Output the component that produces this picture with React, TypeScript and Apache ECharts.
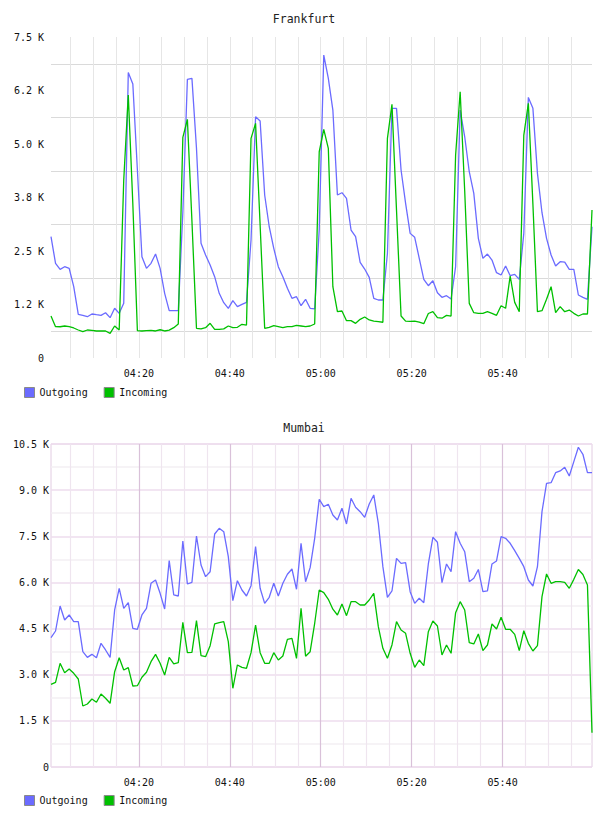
import React, { useEffect, useRef } from "react";
import * as echarts from "echarts";

// Samples are one minute apart, the first one at 04:00:40 (minutes since midnight).
const START_MINUTE = 240 + 40 / 60;
const SAMPLE_COUNT = 120;

const frankfurtOutgoing = [
  2834, 2212, 2072, 2133, 2095, 1666, 1020, 997, 965, 1028,
  1012, 997, 1058, 942, 1161, 1044, 1277, 6673, 6400, 4400,
  2366, 2095, 2212, 2429, 2095, 1511, 1105, 1105, 1110, 3400,
  6510, 6534, 4900, 2679, 2406, 2172, 1900, 1511, 1292, 1161,
  1339, 1199, 1254, 1301, 2756, 5636, 5536, 3808, 3067, 2562,
  2133, 1899, 1628, 1394, 1432, 1222, 1371, 1161, 1150, 3000,
  7078, 6534, 5793, 3808, 3862, 3730, 2990, 2834, 2235, 2079,
  1885, 1394, 1355, 1355, 2445, 5833, 5833, 4392, 3613, 2912,
  2819, 2329, 1838, 1689, 1806, 1526, 1418, 1455, 1378, 2133,
  5793, 5169, 4352, 3847, 2796, 2329, 2429, 2289, 1993, 1939,
  2149, 1923, 1955, 1838, 2912, 6089, 5833, 4314, 3394, 2796,
  2406, 2149, 2250, 2242, 2072, 2072, 1472, 1418, 1371, 3067,
];

const frankfurtIncoming = [
  981, 732, 730, 748, 732, 701, 654, 615, 654, 646,
  631, 631, 631, 576, 748, 654, 4158, 6144, 3600, 638,
  631, 639, 645, 631, 660, 631, 650, 709, 794, 5155,
  5576, 3200, 693, 680, 709, 810, 670, 670, 680, 748,
  709, 717, 787, 770, 5132, 5483, 3100, 693, 717, 755,
  732, 709, 732, 732, 763, 748, 732, 748, 794, 4819,
  5342, 4898, 1666, 1082, 1098, 872, 872, 810, 903, 958,
  888, 860, 850, 835, 5132, 5926, 3450, 981, 860, 855,
  860, 840, 802, 1040, 1082, 945, 930, 995, 980, 4742,
  6221, 3900, 1277, 1058, 1044, 1044, 1082, 1044, 997, 1222,
  1161, 1915, 1300, 1082, 5209, 5950, 3600, 1082, 1105, 1371,
  1666, 1059, 1199, 1082, 1120, 1044, 981, 1028, 1028, 3457,
];

const mumbaiOutgoing = [
  4204, 4421, 5234, 4779, 4942, 4724, 4724, 3748, 3565, 3662,
  3553, 4021, 3804, 3565, 5104, 5810, 5159, 5342, 4509, 4476,
  4942, 5159, 5972, 6079, 5646, 5137, 6707, 5592, 5559, 7347,
  5949, 6005, 7510, 6567, 6187, 6349, 7575, 7760, 7650, 6837,
  5407, 6057, 5754, 5559, 5894, 7162, 5810, 5321, 5516, 5972,
  5559, 5972, 6265, 6437, 5777, 7272, 6024, 6480, 7435, 8703,
  8464, 8540, 8193, 8030, 8410, 7900, 8735, 8443, 8300, 8117,
  8550, 8843, 7922, 6512, 5516, 5722, 6782, 6620, 6642, 5700,
  5321, 5484, 5342, 6600, 7467, 7305, 5992, 6600, 6349, 7650,
  7272, 6999, 6024, 6135, 6421, 5700, 5722, 6600, 6697, 7487,
  7435, 7272, 7032, 6782, 6512, 6079, 5884, 6512, 8300, 9223,
  9243, 9568, 9623, 9743, 9460, 9926, 10394, 10166, 9568, 9568,
];

const mumbaiIncoming = [
  2689, 2753, 3371, 3066, 3186, 3045, 2861, 1983, 2048, 2211,
  2103, 2373, 2233, 2071, 3098, 3553, 3153, 3228, 2633, 2643,
  2916, 3079, 3424, 3662, 3371, 2991, 3565, 3349, 3391, 4704,
  3716, 3727, 4757, 3618, 3586, 3944, 4649, 4692, 4724, 4074,
  2559, 3316, 3241, 3209, 3716, 4616, 3716, 3371, 3371, 3716,
  3479, 3609, 4151, 4184, 3533, 5159, 3600, 3748, 4672, 5754,
  5667, 5450, 5130, 4942, 5299, 4920, 5374, 5374, 5266, 5266,
  5429, 5646, 4562, 3858, 3533, 3966, 4724, 4454, 4346, 3696,
  3241, 3479, 3294, 4400, 4746, 4584, 3641, 3966, 3696, 5017,
  5374, 5104, 4041, 3999, 4324, 3781, 3966, 4649, 4486, 4866,
  4476, 4476, 4313, 3781, 4432, 4021, 3771, 3944, 5537, 6274,
  5972, 6024, 6024, 6005, 5810, 6100, 6421, 6259, 5917, 1115,
];

// Time axis: labelled every 20 minutes, gridlines every 5 minutes.
const timeLabelMinutes = [260, 280, 300, 320, 340];
const timeGridMinutes = [
  245, 250, 255, 260, 265, 270, 275, 280, 285, 290, 295, 300,
  305, 310, 315, 320, 325, 330, 335, 340, 345, 350, 355,
];

const frankfurtTickValues = [0, 1250, 2500, 3750, 5000, 6250, 7500];
const frankfurtTickText = ["0", "1.2 K", "2.5 K", "3.8 K", "5.0 K", "6.2 K", "7.5 K"];
const frankfurtGridValues = [625, 1875, 3125, 4375, 5625, 6875];

const mumbaiTickValues = [0, 1500, 3000, 4500, 6000, 7500, 9000, 10500];
const mumbaiTickText = ["0", "1.5 K", "3.0 K", "4.5 K", "6.0 K", "7.5 K", "9.0 K", "10.5 K"];
const mumbaiGridValues = [
  0, 750, 1500, 2250, 3000, 3750, 4500, 5250, 6000, 6750, 7500, 8250, 9000, 9750, 10500,
];

const OUT_COLOR = "#6b6bff";
const IN_COLOR = "#00c000";
const FONT = "'DejaVu Sans Mono', monospace";

const sampleTimes = Array.from({ length: SAMPLE_COUNT }, (_, i) => START_MINUTE + i);
const pairs = (values: number[]) => values.map((v, i) => [sampleTimes[i], v]);

const formatClock = (minutes: number) => {
  const h = Math.floor(minutes / 60);
  const m = Math.round(minutes - h * 60);
  return String(h).padStart(2, "0") + ":" + String(m).padStart(2, "0");
};

const tickFormatter = (values: number[], texts: string[]) => (v: number) => {
  const idx = values.indexOf(v);
  return idx >= 0 ? texts[idx] : "";
};

function buildOption() {
  const xCommon = (gridIndex: number, colors: string[], width: number) => ({
    type: "value",
    gridIndex,
    min: sampleTimes[0],
    max: sampleTimes[sampleTimes.length - 1],
    axisLine: { show: false },
    axisTick: { show: false, customValues: timeGridMinutes },
    axisLabel: {
      customValues: timeLabelMinutes,
      formatter: (v: number) => formatClock(v),
      fontFamily: FONT,
      fontSize: 10,
      color: "#111",
      margin: 10,
    },
    splitLine: { show: true, lineStyle: { color: colors, width } },
  });

  const lineSeries = (
    name: string,
    values: number[],
    color: string,
    axisIndex: number
  ) => ({
    type: "line",
    name,
    xAxisIndex: axisIndex,
    yAxisIndex: axisIndex,
    data: pairs(values),
    showSymbol: false,
    symbol: "none",
    lineStyle: { color, width: 1.3 },
    itemStyle: { color },
    emphasis: { disabled: true },
  });

  const legendData = [
    { name: "Outgoing", itemStyle: { color: OUT_COLOR, borderColor: "#8a8a8a", borderWidth: 1 } },
    { name: "Incoming", itemStyle: { color: IN_COLOR, borderColor: "#8a8a8a", borderWidth: 1 } },
  ];
  const legendCommon = {
    left: 24,
    orient: "horizontal",
    padding: 0,
    icon: "rect",
    itemWidth: 10,
    itemHeight: 10,
    itemGap: 16,
    data: legendData,
    selectedMode: false,
    textStyle: { fontFamily: FONT, fontSize: 10, color: "#111", padding: [0, 0, 0, 0] },
  };

  const titleStyle = { fontFamily: FONT, fontSize: 11.5, fontWeight: "normal", color: "#222" };

  return {
    animation: false,
    backgroundColor: "#ffffff",
    title: [
      { text: "Frankfurt", left: "center", top: 13, padding: 0, textStyle: titleStyle },
      { text: "Mumbai", left: "center", top: 422, padding: 0, textStyle: titleStyle },
    ],
    legend: [
      { ...legendCommon, top: 387 },
      { ...legendCommon, top: 795 },
    ],
    grid: [
      { left: 51, top: 37, width: 541, height: 321, show: false, outerBoundsMode: "none" },
      {
        left: 51,
        top: 444,
        width: 541,
        height: 323,
        show: true,
        borderColor: "#e2cce2",
        borderWidth: 1,
        backgroundColor: "transparent",
        outerBoundsMode: "none",
      },
    ],
    xAxis: [
      xCommon(0, ["#e6e6e6"], 1),
      xCommon(1, ["#efe5ef", "#efe5ef", "#efe5ef", "#d9c1d9"], 1.2),
    ],
    yAxis: [
      {
        type: "value",
        gridIndex: 0,
        min: 0,
        max: 7500,
        axisLine: { show: false },
        axisTick: { show: false, customValues: frankfurtGridValues },
        axisLabel: {
          customValues: frankfurtTickValues,
          formatter: tickFormatter(frankfurtTickValues, frankfurtTickText),
          fontFamily: FONT,
          fontSize: 10,
          color: "#111",
          margin: 7,
        },
        splitLine: { show: true, lineStyle: { color: ["#dadada"], width: 1 } },
      },
      {
        type: "value",
        gridIndex: 1,
        min: 0,
        max: 10500,
        axisLine: { show: false },
        axisTick: { show: false, customValues: mumbaiGridValues },
        axisLabel: {
          customValues: mumbaiTickValues,
          formatter: tickFormatter(mumbaiTickValues, mumbaiTickText),
          fontFamily: FONT,
          fontSize: 10,
          color: "#111",
          margin: 2,
        },
        splitLine: { show: true, lineStyle: { color: ["#eedcee", "#f3eff3"], width: 1.6 } },
      },
    ],
    series: [
      lineSeries("Outgoing", frankfurtOutgoing, OUT_COLOR, 0),
      lineSeries("Incoming", frankfurtIncoming, IN_COLOR, 0),
      lineSeries("Outgoing", mumbaiOutgoing, OUT_COLOR, 1),
      lineSeries("Incoming", mumbaiIncoming, IN_COLOR, 1),
    ],
  };
}

export default function App() {
  const ref = useRef<HTMLDivElement>(null);

  useEffect(() => {
    if (!ref.current) return;
    const chart = echarts.init(ref.current, undefined, { renderer: "svg" });
    chart.setOption(buildOption() as any);
    return () => chart.dispose();
  }, []);

  return (
    <div
      ref={ref}
      style={{ position: "absolute", left: 0, top: 0, width: 608, height: 816, background: "#fff" }}
    />
  );
}
